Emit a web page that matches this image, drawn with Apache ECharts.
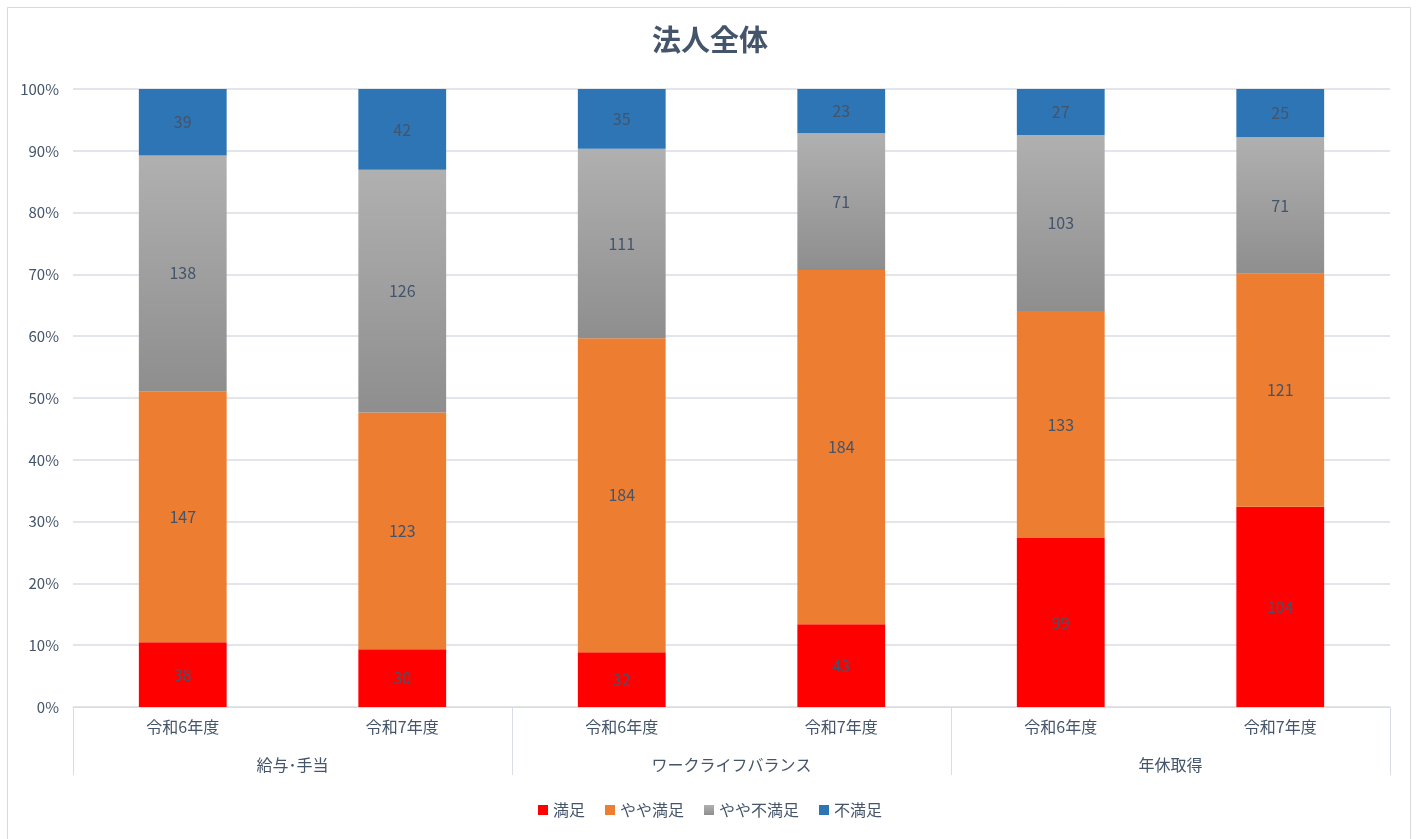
<!DOCTYPE html>
<html lang="ja">
<head>
    <meta charset="UTF-8">
    <title>法人全体</title>
    <script src="https://cdn.jsdelivr.net/npm/echarts@6/dist/echarts.min.js"></script>
    <style>
        * {
            margin: 0;
            padding: 0;
            box-sizing: border-box;
        }

        body {
            background: #ffffff;
            font-family: 'Noto Sans CJK JP', 'Noto Sans', sans-serif;
        }

        #chart {
            width: 1420px;
            height: 839px;
        }
    </style>
</head>
<body>
    <div id="chart"></div>

    <script>
        // データ
        const years = ['令和6年度', '令和7年度', '令和6年度', '令和7年度', '令和6年度', '令和7年度'];
        const groups = ['給与･手当', 'ワークライフバランス', '年休取得'];
        const seriesNames = ['満足', 'やや満足', 'やや不満足', '不満足'];
        const manzoku = [38, 30, 32, 43, 99, 104];
        const yayaManzoku = [147, 123, 184, 184, 133, 121];
        const yayaFuman = [138, 126, 111, 71, 103, 71];
        const fuman = [39, 42, 35, 23, 27, 25];
        const yTicks = [0, 10, 20, 30, 40, 50, 60, 70, 80, 90, 100];

        const rows = [manzoku, yayaManzoku, yayaFuman, fuman];
        const totals = years.map((_, i) => rows.reduce((s, r) => s + r[i], 0));

        const grayGradient = new echarts.graphic.LinearGradient(0, 0, 0, 1, [
            { offset: 0, color: '#b0b0b0' },
            { offset: 1, color: '#8e8e8e' }
        ]);
        const colors = ['#ff0000', '#ed7d31', grayGradient, '#2e75b6'];
        const textColor = '#44546a';
        const lineColor = '#d9dde3';

        const chart = echarts.init(document.getElementById('chart'));
        chart.setOption({
            textStyle: { fontFamily: "'Noto Sans CJK JP', sans-serif" },
            title: {
                text: '法人全体',
                left: 'center',
                top: 20,
                textStyle: { fontSize: 29, fontWeight: 'bold', color: textColor }
            },
            graphic: [{
                type: 'rect',
                shape: { x: 7.5, y: 7.5, width: 1403, height: 840 },
                style: { fill: 'none', stroke: '#d9d9d9', lineWidth: 1 },
                silent: true
            }],
            legend: {
                bottom: 16,
                left: 'center',
                itemWidth: 10,
                itemHeight: 10,
                itemGap: 20,
                icon: 'rect',
                textStyle: { fontSize: 16, color: textColor },
                data: seriesNames
            },
            grid: { left: 73, right: 30, top: 89, bottom: 132 },
            xAxis: [{
                type: 'category',
                data: years,
                axisLine: { lineStyle: { color: lineColor } },
                axisTick: { show: false },
                axisLabel: { color: textColor, fontSize: 16, margin: 12 }
            }, {
                type: 'category',
                data: groups,
                position: 'bottom',
                axisLine: { show: false },
                axisTick: { show: true, length: 68, lineStyle: { color: lineColor } },
                axisLabel: { color: textColor, fontSize: 16, margin: 50 }
            }],
            yAxis: {
                type: 'value',
                min: 0,
                max: 100,
                interval: 10,
                axisLabel: {
                    color: textColor,
                    fontSize: 15,
                    margin: 14,
                    formatter: v => yTicks.includes(v) ? v + '%' : ''
                },
                splitLine: { lineStyle: { color: lineColor, width: 1.5 } },
                axisLine: { show: false },
                axisTick: { show: false }
            },
            series: seriesNames.map((name, k) => ({
                name: name,
                type: 'bar',
                stack: 'total',
                barWidth: '40%',
                xAxisIndex: 0,
                itemStyle: { color: colors[k] },
                label: {
                    show: true,
                    position: 'inside',
                    color: textColor,
                    fontSize: 16,
                    formatter: p => rows[k][p.dataIndex]
                },
                data: rows[k].map((v, i) => v / totals[i] * 100)
            }))
        });
    </script>
</body>
</html>
